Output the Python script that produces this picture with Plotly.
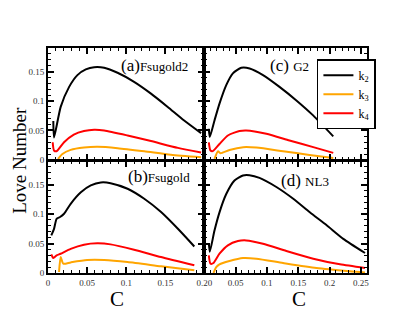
import plotly.graph_objects as go
from plotly.subplots import make_subplots

# compactness C and Love numbers
# (a) Fsugold2
c_a_k2 = [0.0068, 0.0077, 0.0162, 0.027, 0.0376, 0.0483, 0.059, 0.0718, 0.0889, 0.110, 0.1316, 0.153, 0.174, 0.1957]
k2_a = [0.066, 0.038, 0.090, 0.124, 0.144, 0.1536, 0.1575, 0.1565, 0.148, 0.1326, 0.1126, 0.090, 0.067, 0.0455]
c_a_k3 = [0.0128, 0.0184, 0.029, 0.046, 0.063, 0.089, 0.123, 0.157, 0.1957]
k3_a = [0.0017, 0.010, 0.017, 0.021, 0.0222, 0.020, 0.0148, 0.009, 0.0046]
c_a_k4 = [0.006, 0.0077, 0.011, 0.0205, 0.033, 0.046, 0.059, 0.0718, 0.1017, 0.1316, 0.166, 0.1957]
k4_a = [0.030, 0.016, 0.0148, 0.030, 0.043, 0.049, 0.0512, 0.050, 0.0415, 0.032, 0.0205, 0.0125]

# (b) Fsugold
c_b_k2 = [0.0042, 0.0077, 0.011, 0.0154, 0.0205, 0.029, 0.042, 0.0547, 0.0675, 0.080, 0.1017, 0.123, 0.1445, 0.166, 0.187]
k2_b = [0.064, 0.075, 0.092, 0.095, 0.1005, 0.1175, 0.137, 0.1486, 0.1537, 0.1525, 0.143, 0.126, 0.1034, 0.075, 0.045]
c_b_k3 = [0.0141, 0.0162, 0.0196, 0.029, 0.050, 0.0718, 0.1017, 0.1445, 0.187]
k3_b = [0.0017, 0.027, 0.0158, 0.018, 0.022, 0.022, 0.0186, 0.0114, 0.0046]
c_b_k4 = [0.0042, 0.0068, 0.011, 0.016, 0.029, 0.046, 0.063, 0.080, 0.110, 0.1445, 0.187]
k4_b = [0.0317, 0.0254, 0.030, 0.0327, 0.041, 0.048, 0.0503, 0.0486, 0.0395, 0.027, 0.013]

# (c) G2
c_c_k2 = [0.0069, 0.0085, 0.016, 0.024, 0.0348, 0.0454, 0.0589, 0.0722, 0.0936, 0.120, 0.147, 0.1738, 0.206]
k2_c = [0.053, 0.039, 0.067, 0.0956, 0.127, 0.147, 0.1565, 0.1553, 0.144, 0.124, 0.101, 0.0756, 0.040]
c_c_k3 = [0.016, 0.0216, 0.0255, 0.040, 0.062, 0.083, 0.1257, 0.168, 0.206]
k3_c = [0.0017, 0.0148, 0.0114, 0.017, 0.0217, 0.021, 0.0148, 0.0085, 0.0034]
c_c_k4 = [0.0069, 0.0096, 0.0133, 0.024, 0.0374, 0.056, 0.0668, 0.099, 0.136, 0.174, 0.206]
k4_c = [0.030, 0.016, 0.015, 0.027, 0.0415, 0.049, 0.050, 0.0444, 0.033, 0.0217, 0.012]

# (d) NL3
c_d_k2 = [0.0069, 0.0085, 0.016, 0.024, 0.0348, 0.048, 0.0615, 0.072, 0.088, 0.115, 0.142, 0.1685, 0.1955, 0.222, 0.2568]
k2_d = [0.051, 0.036, 0.072, 0.103, 0.134, 0.157, 0.1656, 0.166, 0.1615, 0.146, 0.126, 0.103, 0.081, 0.058, 0.034]
c_d_k3 = [0.0144, 0.0188, 0.024, 0.040, 0.0615, 0.083, 0.1257, 0.179, 0.2327, 0.2568]
k3_d = [0.0, 0.010, 0.0147, 0.0203, 0.0254, 0.0243, 0.017, 0.0085, 0.003, 0.001]
c_d_k4 = [0.0069, 0.0096, 0.0144, 0.024, 0.0374, 0.0535, 0.0668, 0.0936, 0.131, 0.174, 0.2167, 0.2568]
k4_d = [0.030, 0.0158, 0.017, 0.0327, 0.047, 0.0542, 0.0553, 0.0497, 0.0373, 0.0243, 0.0147, 0.0085]

panels = [
    (1, 1, c_a_k2, k2_a, c_a_k3, k3_a, c_a_k4, k4_a),
    (2, 1, c_b_k2, k2_b, c_b_k3, k3_b, c_b_k4, k4_b),
    (1, 2, c_c_k2, k2_c, c_c_k3, k3_c, c_c_k4, k4_c),
    (2, 2, c_d_k2, k2_d, c_d_k3, k3_d, c_d_k4, k4_d),
]

x_ticks_left = [0, 0.05, 0.1, 0.15, 0.2]
x_text_left = ["0", "0.05", "0.1", "0.15", "0.20"]
x_ticks_right = [0.05, 0.1, 0.15, 0.2, 0.25]
x_text_right = ["0.05", "0.1", "0.15", "0.2", "0.25"]
y_ticks = [0, 0.05, 0.1, 0.15]
y_text = ["0", "0.05", "0.1", "0.15"]

names = ["k<sub>2</sub>", "k<sub>3</sub>", "k<sub>4</sub>"]
colors = ["black", "#FFA500", "#FF0000"]

SERIF = "Liberation Serif"

fig = make_subplots(
    rows=2,
    cols=2,
    column_widths=[156, 162],
    horizontal_spacing=0,
    vertical_spacing=0.005,
)

for row, col, cx2, y2, cx3, y3, cx4, y4 in panels:
    for k, (cx, yy) in enumerate([(cx2, y2), (cx3, y3), (cx4, y4)]):
        fig.add_trace(
            go.Scatter(
                x=cx,
                y=yy,
                mode="lines",
                name=names[k],
                line=dict(color=colors[k], width=2, shape="spline", smoothing=0.6),
                showlegend=(row == 1 and col == 2),
            ),
            row=row,
            col=col,
        )

axis_style = dict(
    showline=True,
    linecolor="black",
    linewidth=2,
    mirror="ticks",
    ticks="inside",
    ticklen=6,
    tickwidth=1.5,
    tickcolor="black",
    showgrid=False,
    zeroline=False,
    automargin=False,
    tickfont=dict(family=SERIF, size=9, color="#333"),
    minor=dict(ticks="inside", ticklen=3, tickwidth=1, tickcolor="black", dtick=0.01, showgrid=False),
)

for row in (1, 2):
    for col in (1, 2):
        xr = [0, 0.2] if col == 1 else [0, 0.26]
        fig.update_xaxes(
            range=xr,
            tickmode="array",
            tickvals=x_ticks_left if col == 1 else x_ticks_right,
            ticktext=x_text_left if col == 1 else x_text_right,
            showticklabels=(row == 2),
            row=row,
            col=col,
            **axis_style,
        )
        fig.update_yaxes(
            range=[0, 0.19],
            tickmode="array",
            tickvals=y_ticks,
            ticktext=y_text,
            showticklabels=(col == 1),
            row=row,
            col=col,
            **axis_style,
        )

# panel labels: model letter larger, model name smaller
panel_labels = [
    ("(a)", "Fsugold2", "x", "y", 0.455, 0.84),
    ("(c) ", "G2", "x2", "y2", 0.39, 0.84),
    ("(b)", "Fsugold", "x3", "y3", 0.5, 0.86),
    ("(d) ", "NL3", "x4", "y4", 0.46, 0.83),
]
for tag, model, xa, ya, px, py in panel_labels:
    fig.add_annotation(
        text=f"{tag}<span style='font-size:13px'>{model}</span>",
        xref=f"{xa} domain", yref=f"{ya} domain", x=px, y=py,
        xanchor="left", yanchor="middle", showarrow=False,
        font=dict(family=SERIF, size=17, color="black"),
    )

fig.add_annotation(
    text="Love Number", xref="paper", yref="paper", x=-0.09, y=0.5,
    textangle=-90, xanchor="center", yanchor="middle", showarrow=False,
    font=dict(family=SERIF, size=19, color="black"),
)
for cx in (0.215, 0.787):
    fig.add_annotation(
        text="C", xref="paper", yref="paper", x=cx, y=-0.055,
        xanchor="center", yanchor="top", showarrow=False,
        font=dict(family=SERIF, size=21, color="black"),
    )

fig.update_layout(
    width=415,
    height=321,
    margin=dict(l=48, r=48, t=48, b=48),
    plot_bgcolor="white",
    paper_bgcolor="white",
    legend=dict(
        x=0.843, y=0.95, xanchor="left", yanchor="top",
        bgcolor="white", bordercolor="black", borderwidth=1.5,
        font=dict(family=SERIF, size=12, color="black"),
        itemwidth=30, tracegroupgap=0,
    ),
)

# drop the browser's default body margin so the figure sits at the page corner
fig.write_html(
    "out.html",
    config={"displayModeBar": False},
    post_script="document.body.style.margin='0';",
)
